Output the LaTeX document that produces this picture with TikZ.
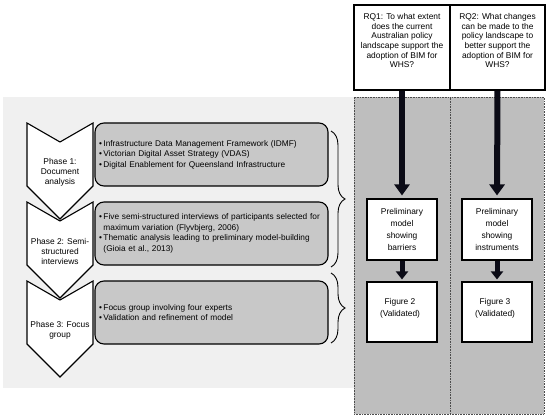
\documentclass[tikz,border=0pt]{standalone}
\usepackage{fontspec}
\setmainfont{Liberation Sans}
\usetikzlibrary{arrows.meta,decorations.pathreplacing}

\definecolor{panelgray}{HTML}{F0F0F0}
\definecolor{boxgray}{HTML}{C8C8C8}
\definecolor{colgray}{HTML}{BEBEBE}
\definecolor{arrowink}{HTML}{0B0B16}

\tikzstyle{column}=[draw=black!70,densely dotted,line width=0.6pt,fill=colgray,minimum height=317pt,inner sep=0pt]
\tikzstyle{rqbox}=[draw,line width=1.1pt,fill=white,minimum height=85pt,inner sep=0pt]
\tikzstyle{rqtext}=[align=center,inner sep=0pt,font=\fontsize{8.4}{9.6}\selectfont]
\tikzstyle{phasebox}=[draw,line width=1.1pt,fill=boxgray,rounded corners=9pt,minimum width=233pt,minimum height=63pt,inner xsep=4pt,text width=225pt,align=left,font=\fontsize{8.3}{10.6}\selectfont]
\tikzstyle{chevron}=[draw,line width=1.1pt,fill=white,line join=miter]
\tikzstyle{phasetext}=[align=center,inner sep=0pt,font=\fontsize{8.4}{10}\selectfont]
\tikzstyle{model}=[draw,line width=1.1pt,fill=white,minimum width=70pt,inner sep=0pt,align=center,font=\fontsize{8.4}{12.2}\selectfont]
\tikzstyle{bigarrow}=[draw=arrowink,line width=6pt,-{Triangle[width=15pt,length=11pt]},shorten >=3pt]
\tikzstyle{smallarrow}=[draw=arrowink,line width=5pt,-{Triangle[width=12pt,length=8pt]},shorten >=2pt]
\tikzstyle{brace}=[draw,line width=0.9pt,decorate,decoration={brace,amplitude=14pt}]
\newcommand{\phbul}{\makebox[4.5pt][l]{\textbullet}}
\newcommand{\phcont}{\hspace*{4.5pt}}

\begin{document}
\begin{tikzpicture}[x=1pt, y=-1pt]
    % Page and the light panel behind the phases
    \useasboundingbox (0,0) rectangle (550,420);
    \fill[white] (0,0) rectangle (550,420);
    \fill[panelgray] (3,97) rectangle (354,388);
    % Columns and research questions
    \node[column, minimum width=96pt] (col1) at (402,255.5) {};
    \node[column, minimum width=94pt] (col2) at (497,255.5) {};
    \node[rqbox, minimum width=96pt] (rq1) at (402,47.5) {};
    \node[rqbox, minimum width=95pt] (rq2) at (497.5,47.5) {};
    \node[rqtext, anchor=north] (rq1text) at ([yshift=-9pt]rq1.north)
        {RQ1: To what extent\\does the current\\Australian policy\\landscape support the\\adoption of BIM for\\WHS?};
    \node[rqtext, anchor=north] (rq2text) at ([yshift=-9pt]rq2.north)
        {RQ2: What changes\\can be made to the\\policy landscape to\\better support the\\adoption of BIM for\\WHS?};
    % Phase boxes
    \foreach \y/\name/\txt in {
        154.5/box1/{\phbul Infrastructure Data Management Framework (IDMF)\\\phbul Victorian Digital Asset Strategy (VDAS)\\\phbul Digital Enablement for Queensland Infrastructure},
        233.5/box2/{\phbul Five semi-structured interviews of participants selected for\\\phcont maximum variation (Flyvbjerg, 2006)\\\phbul Thematic analysis leading to preliminary model-building\\\phcont (Gioia et al., 2013)},
        312.5/box3/{\phbul Focus group involving four experts\\\phbul Validation and refinement of model}}
        \node[phasebox] (\name) at (211.5,\y) {\txt};
    % Chevrons with the phase names
    \foreach \t/\name/\label in {281/ph3/{Phase 3: Focus\\group}, 202/ph2/{Phase 2: Semi-\\structured\\interviews}, 123/ph1/{Phase 1:\\Document\\analysis}} {
        \draw[chevron] (27,\t) -- (60,\t+19) -- (93,\t) -- (93,\t+63) -- (60,\t+96) -- (27,\t+63) -- cycle;
        \node[phasetext] (\name) at (60,\t+49) {\label};
    }
    % Braces grouping the phases
    \coordinate (br1a) at (331,131);
    \coordinate (br1b) at (331,267);
    \coordinate (br2a) at (331,273);
    \coordinate (br2b) at (331,343);
    \path[brace] (br1a) -- (br1b);
    \path[brace] (br2a) -- (br2b);
    % Models and figures
    \node[model, minimum height=61pt] (prel1) at (402,229.5) {Preliminary\\model\\showing\\barriers};
    \node[model, minimum height=61pt] (prel2) at (497,229.5) {Preliminary\\model\\showing\\instruments};
    \node[model, minimum height=60pt] (fig2) at (402,312) {};
    \node[model, minimum height=60pt] (fig3) at (497,312) {};
    \node[phasetext, font=\fontsize{8.4}{12.2}\selectfont] (fig2text) at ([xshift=-2pt,yshift=4pt]fig2.center) {Figure 2\\(Validated)};
    \node[phasetext, font=\fontsize{8.4}{12.2}\selectfont] (fig3text) at ([xshift=-2pt,yshift=4pt]fig3.center) {Figure 3\\(Validated)};
    % Arrows
    \foreach \source/ \dest /\kind in {rq1/prel1/bigarrow, rq2/prel2/bigarrow, prel1/fig2/smallarrow, prel2/fig3/smallarrow}
        \path[\kind] (\source.south) -- (\dest.north);
\end{tikzpicture}
\end{document}
